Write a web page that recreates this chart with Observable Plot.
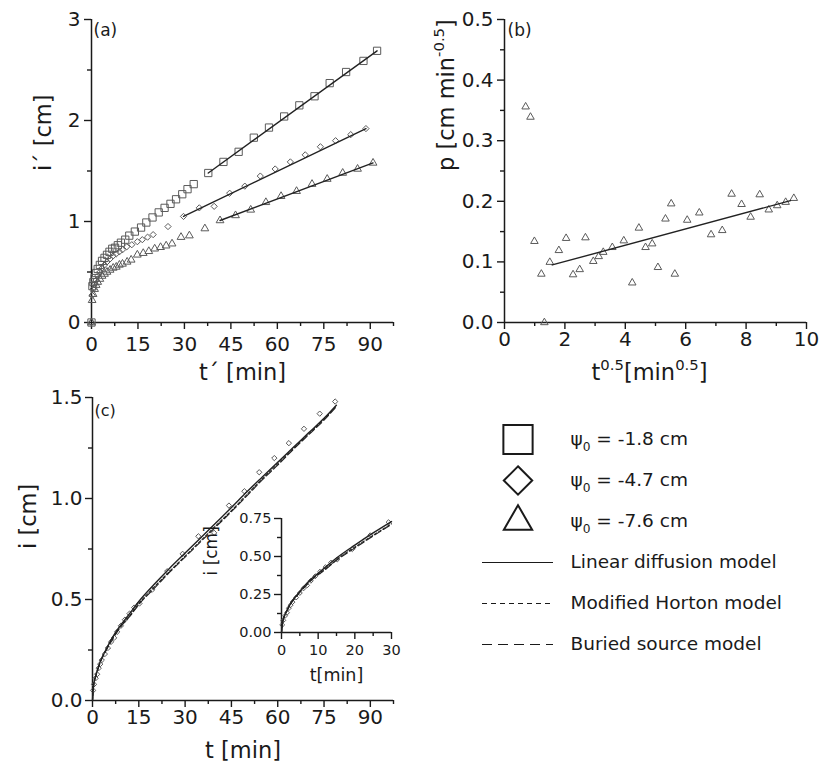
<!DOCTYPE html>
<html><head><meta charset="utf-8">
<script src="https://cdn.jsdelivr.net/npm/d3@7"></script>
<script src="https://cdn.jsdelivr.net/npm/@observablehq/plot@0.6"></script>
<style>
body{margin:0;background:#fff;}
#wrap{position:relative;width:819px;height:781px;overflow:hidden;background:#fff;}
#wrap svg{position:absolute;overflow:visible;}
</style></head><body><div id="wrap"></div>
<script>
// ---------------- DATA ----------------
// Panel (a): i' vs t'
const sqT = [0,0.3,0.6,1.0,1.5,2.0,2.7,3.4,4.2,5.0,5.8,6.7,7.6,8.5,9.5,10.9,12.2,14.0,16.0,17.7,19.7,21.7,23.6,25.5,27.3,29.3,31.0,33.0,37.7,42.6,47.5,52.4,57.3,62.2,67.1,72.0,76.9,82.2,87.8,92.2];
const sqI = [0,0.36,0.40,0.44,0.49,0.53,0.57,0.61,0.64,0.67,0.70,0.73,0.74,0.765,0.79,0.82,0.86,0.90,0.94,0.99,1.04,1.09,1.135,1.175,1.22,1.27,1.32,1.37,1.48,1.59,1.69,1.83,1.93,2.04,2.15,2.24,2.37,2.48,2.59,2.69];
const diT = [0,0.2,0.5,1.0,1.5,2.0,2.7,3.4,4.2,5.0,6.0,7.0,8.0,9.0,10.0,11.4,13.0,14.8,16.4,18.1,19.9,24.7,29.7,34.8,39.6,44.6,49.5,54.5,59.3,64.2,69.0,73.9,78.8,83.7,88.6];
const diI = [0,0.27,0.33,0.38,0.42,0.46,0.50,0.54,0.57,0.60,0.63,0.66,0.68,0.70,0.72,0.75,0.77,0.80,0.82,0.845,0.87,0.95,1.05,1.135,1.15,1.28,1.35,1.45,1.52,1.59,1.66,1.74,1.80,1.86,1.92];
const trT = [0,0.2,0.5,1.0,1.5,2.0,2.7,3.4,4.2,5.0,6.0,7.0,8.0,9.0,10.0,11.5,12.8,14.8,16.7,18.5,20.4,22.3,24.1,26.0,28.9,31.6,36.6,41.5,46.5,51.4,56.3,61.2,66.2,71.2,76.1,81.1,85.9,90.9];
const trI = [0,0.22,0.28,0.33,0.37,0.40,0.43,0.46,0.48,0.50,0.52,0.54,0.55,0.57,0.58,0.60,0.62,0.67,0.686,0.705,0.73,0.745,0.76,0.78,0.845,0.86,0.93,1.01,1.06,1.115,1.19,1.25,1.30,1.37,1.42,1.48,1.52,1.58];
const fitSqT = [37.7, 92.2], fitSqI = [1.48, 2.69];
const fitDiT = [29.7, 88.6], fitDiI = [1.05, 1.92];
const fitTrT = [41.5, 90.9], fitTrI = [1.01, 1.58];
const aXTicks = [0,15,30,45,60,75,90];
const aXMinor = [7.5,22.5,37.5,52.5,67.5,82.5,97.5];
const aYTicks = [0,1,2,3];
const aYMinor = [0.5,1.5,2.5];

// Panel (b): p vs t^0.5
const pX = [0.70,0.86,0.99,1.22,1.32,1.50,1.80,2.04,2.27,2.49,2.68,2.94,3.12,3.27,3.57,3.95,4.23,4.45,4.67,4.89,5.08,5.33,5.52,5.64,6.05,6.45,6.84,7.21,7.52,7.85,8.15,8.45,8.75,9.03,9.31,9.58];
const pY = [0.356,0.339,0.134,0.080,0.0,0.0995,0.119,0.139,0.079,0.0875,0.140,0.101,0.109,0.116,0.124,0.135,0.0655,0.156,0.124,0.130,0.091,0.171,0.196,0.080,0.169,0.181,0.145,0.152,0.212,0.195,0.174,0.211,0.186,0.193,0.1985,0.205];
const pFitX = [1.58, 9.47], pFitY = [0.095, 0.201];
const bXTicks = [0,2,4,6,8,10], bXMinor = [1,3,5,7,9];
const bYTicks = [0,0.1,0.2,0.3,0.4,0.5], bYMinor = [0.05,0.15,0.25,0.35,0.45];

// Panel (c): i vs t
const cT = [0.2,0.5,1.0,1.5,2.0,2.5,3.0,4.0,5.0,6.0,7.0,8.0,9.2,10.5,12.0,13.5,15.2,19.3,24.2,29.2,34.3,39.4,44.2,49.2,54.0,58.9,63.6,68.5,73.6,78.6];
const cI = [0.05,0.08,0.11,0.13,0.16,0.18,0.20,0.23,0.26,0.29,0.31,0.34,0.37,0.40,0.43,0.46,0.48,0.548,0.64,0.726,0.813,0.83,0.965,1.036,1.13,1.20,1.274,1.345,1.42,1.48];
const mT  = [0,0.25,0.5,1,2,3,4,6,8,10,12,15,20,25,30,35,40,45,50,55,60,65,70,75,79];
const mLD = [0,0.06,0.09,0.12,0.17,0.21,0.24,0.30,0.35,0.39,0.43,0.49,0.575,0.655,0.73,0.805,0.88,0.955,1.033,1.107,1.18,1.252,1.325,1.397,1.462];
const mMH = [0,0.06,0.09,0.12,0.17,0.21,0.24,0.295,0.345,0.385,0.42,0.48,0.562,0.64,0.715,0.79,0.866,0.94,1.019,1.097,1.172,1.247,1.32,1.393,1.459];
const mBS = [0,0.055,0.085,0.115,0.165,0.205,0.235,0.29,0.34,0.38,0.415,0.475,0.555,0.635,0.71,0.785,0.86,0.935,1.013,1.092,1.165,1.242,1.315,1.388,1.455];
const cXTicks = [0,15,30,45,60,75,90], cXMinor = [7.5,22.5,37.5,52.5,67.5,82.5,97.5];
const cYTicks = [0,0.5,1.0,1.5], cYMinor = [0.25,0.75,1.25];
const inXTicks = [0,10,20,30], inXMinor = [5,15,25];
const inYTicks = [0,0.25,0.5,0.75], inYMinor = [0.125,0.375,0.625];

// Legend
const legendLabels = ["ψ_{0} = -1.8 cm","ψ_{0} = -4.7 cm","ψ_{0} = -7.6 cm","Linear diffusion model","Modified Horton model","Buried source model"];

// ---------------- HELPERS ----------------
const FONT = '"DejaVu Sans", "Liberation Sans", Arial, sans-serif';
const INK = "#1a1a1a";
const GRAY = "#5a5a5a";
const zip = (xs, ys) => xs.map((x, i) => ({x, y: ys[i]}));
const wrap = document.getElementById("wrap");

function axes({xT, xM, yT, yM, xFmt, yFmt, fs, xPad, yPad}) {
  const common = {stroke: INK, fill: INK, strokeWidth: 1.4, label: null, fontSize: fs};
  return [
    Plot.axisX(xT, {...common, anchor: "bottom", tickSize: 7, tickPadding: xPad, tickFormat: xFmt}),
    Plot.axisX(xM, {anchor: "bottom", tickSize: 4, stroke: INK, strokeWidth: 1.4, fill: "none", label: null}),
    Plot.axisY(yT, {...common, anchor: "left", tickSize: 7, tickPadding: yPad, tickFormat: yFmt}),
    Plot.axisY(yM, {anchor: "left", tickSize: 4, stroke: INK, strokeWidth: 1.4, fill: "none", label: null}),
    Plot.ruleX([0], {stroke: INK, strokeWidth: 1.5}),
    Plot.ruleY([0], {stroke: INK, strokeWidth: 1.5})
  ];
}

function place(svg, left, top) {
  svg.style.left = left + "px";
  svg.style.top = top + "px";
  wrap.appendChild(svg);
  enrich(svg);
}

function enrich(svg) {
  svg.querySelectorAll("text").forEach(t => {
    const s = t.textContent;
    if (!/[_^]\{/.test(s)) return;
    const fs = parseFloat(getComputedStyle(t).fontSize) || 16;
    while (t.firstChild) t.removeChild(t.firstChild);
    const re = /([_^])\{([^}]*)\}/g;
    let last = 0, m, shift = 0;
    const add = (str, kind) => {
      const ts = document.createElementNS("http://www.w3.org/2000/svg", "tspan");
      const target = kind === "^" ? -0.42 * fs : kind === "_" ? 0.32 * fs : 0;
      if (target - shift !== 0) ts.setAttribute("dy", target - shift);
      shift = target;
      if (kind) ts.setAttribute("font-size", 0.66 * fs);
      ts.textContent = str;
      t.appendChild(ts);
    };
    while ((m = re.exec(s))) {
      if (m.index > last) add(s.slice(last, m.index), null);
      add(m[2], m[1]);
      last = re.lastIndex;
    }
    if (last < s.length) add(s.slice(last), null);
  });
}

const baseStyle = {fontFamily: FONT, background: "transparent", overflow: "visible", maxWidth: "none", color: INK};

// ---------------- PANEL (a) ----------------
const plotA = Plot.plot({
  width: 410, height: 400, marginLeft: 91, marginRight: 17, marginTop: 19, marginBottom: 78,
  style: baseStyle,
  x: {domain: [0, 97.5], axis: null},
  y: {domain: [0, 3], axis: null},
  marks: [
    ...axes({xT: aXTicks, xM: aXMinor, yT: aYTicks, yM: aYMinor, yFmt: d3.format("d"), fs: 20, xPad: 7, yPad: 4}),
    Plot.dot(zip(sqT, sqI), {x: "x", y: "y", symbol: "square", r: 4.1, stroke: GRAY, strokeWidth: 1, fill: "none"}),
    Plot.dot(zip(diT, diI), {x: "x", y: "y", symbol: "diamond2", r: 2.8, stroke: GRAY, strokeWidth: 1, fill: "none"}),
    Plot.dot(zip(trT, trI), {x: "x", y: "y", symbol: "triangle2", r: 3.7, stroke: GRAY, strokeWidth: 1, fill: "none"}),
    Plot.line(zip(fitSqT, fitSqI), {x: "x", y: "y", stroke: "#222", strokeWidth: 1.4}),
    Plot.line(zip(fitDiT, fitDiI), {x: "x", y: "y", stroke: "#222", strokeWidth: 1.4}),
    Plot.line(zip(fitTrT, fitTrI), {x: "x", y: "y", stroke: "#222", strokeWidth: 1.4}),
    Plot.text(["(a)"], {frameAnchor: "top-left", textAnchor: "start", lineAnchor: "top", dx: 2, dy: 4, fontSize: 17, fill: INK}),
    Plot.text(["i´ [cm]"], {frameAnchor: "left", rotate: -90, dx: -48, fontSize: 22.5, fill: INK}),
    Plot.text(["t´ [min]"], {frameAnchor: "bottom", dy: 57, fontSize: 22.5, fill: INK})
  ]
});
place(plotA, 0, 0);

// ---------------- PANEL (b) ----------------
const plotB = Plot.plot({
  width: 409, height: 400, marginLeft: 94, marginRight: 13, marginTop: 19, marginBottom: 78,
  style: baseStyle,
  x: {domain: [0, 10], axis: null},
  y: {domain: [0, 0.5], axis: null},
  marks: [
    ...axes({xT: bXTicks, xM: bXMinor, yT: bYTicks, yM: bYMinor, yFmt: d3.format(".1f"), fs: 20, xPad: 2, yPad: 4}),
    Plot.dot(zip(pX, pY), {x: "x", y: "y", symbol: "triangle2", r: 3.6, stroke: GRAY, strokeWidth: 1, fill: "none"}),
    Plot.line(zip(pFitX, pFitY), {x: "x", y: "y", stroke: "#222", strokeWidth: 1.4}),
    Plot.text(["(b)"], {frameAnchor: "top-left", textAnchor: "start", lineAnchor: "top", dx: 3, dy: 4, fontSize: 17, fill: INK}),
    Plot.text(["p [cm min^{-0.5}]"], {frameAnchor: "left", rotate: -90, dx: -58, fontSize: 22.5, fill: INK}),
    Plot.text(["t^{0.5}[min^{0.5}]"], {frameAnchor: "bottom", dx: -6, dy: 57, fontSize: 22.5, fill: INK})
  ]
});
place(plotB, 410, 0);

// ---------------- PANEL (c) ----------------
const plotC = Plot.plot({
  width: 410, height: 401, marginLeft: 92, marginRight: 17, marginTop: 17, marginBottom: 81,
  style: baseStyle,
  x: {domain: [0, 97.5], axis: null},
  y: {domain: [0, 1.5], axis: null},
  marks: [
    ...axes({xT: cXTicks, xM: cXMinor, yT: cYTicks, yM: cYMinor, yFmt: d3.format(".1f"), fs: 20, xPad: 2, yPad: 3}),
    Plot.dot(zip(cT, cI), {x: "x", y: "y", symbol: "diamond2", r: 2.4, stroke: GRAY, strokeWidth: 1, fill: "none"}),
    Plot.line(zip(mT, mBS), {x: "x", y: "y", curve: "monotone-x", stroke: "#222", strokeWidth: 1.1, strokeDasharray: "7,3"}),
    Plot.line(zip(mT, mMH), {x: "x", y: "y", curve: "monotone-x", stroke: "#222", strokeWidth: 1.1, strokeDasharray: "3,2"}),
    Plot.line(zip(mT, mLD), {x: "x", y: "y", curve: "monotone-x", stroke: "#222", strokeWidth: 1.4}),
    Plot.text(["(c)"], {frameAnchor: "top-left", textAnchor: "start", lineAnchor: "top", dx: 2, dy: 7, fontSize: 16, fill: INK}),
    Plot.text(["i [cm]"], {frameAnchor: "left", rotate: -90, dx: -64, fontSize: 22.5, fill: INK}),
    Plot.text(["t [min]"], {frameAnchor: "bottom", dy: 57, fontSize: 22.5, fill: INK})
  ]
});
place(plotC, 0, 380);

// ---------------- INSET ----------------
const inC = zip(cT, cI).filter(d => d.x <= 30);
const inLD = zip(mT, mLD).filter(d => d.x <= 30);
const inMH = zip(mT, mMH).filter(d => d.x <= 30);
const inBS = zip(mT, mBS).filter(d => d.x <= 30);
const plotIn = Plot.plot({
  width: 230, height: 200, marginLeft: 101, marginRight: 19, marginTop: 18, marginBottom: 68,
  style: baseStyle,
  x: {domain: [0, 30], axis: null},
  y: {domain: [0, 0.75], axis: null},
  marks: [
    ...axes({xT: inXTicks, xM: inXMinor, yT: inYTicks, yM: inYMinor, yFmt: d3.format(".2f"), fs: 14.5, xPad: 5, yPad: 3}),
    Plot.dot(inC, {x: "x", y: "y", symbol: "diamond2", r: 2.2, stroke: GRAY, strokeWidth: 1, fill: "none"}),
    Plot.line(inBS, {x: "x", y: "y", curve: "monotone-x", stroke: "#222", strokeWidth: 1.1, strokeDasharray: "7,3"}),
    Plot.line(inMH, {x: "x", y: "y", curve: "monotone-x", stroke: "#222", strokeWidth: 1.1, strokeDasharray: "3,2"}),
    Plot.line(inLD, {x: "x", y: "y", curve: "monotone-x", stroke: "#222", strokeWidth: 1.4}),
    Plot.text(["i [cm]"], {frameAnchor: "left", rotate: -90, dx: -70, fontSize: 17, fill: INK}),
    Plot.text(["t[min]"], {frameAnchor: "bottom", dy: 48, fontSize: 17.5, fill: INK})
  ]
});
place(plotIn, 180, 500);

// ---------------- LEGEND ----------------
const plotL = Plot.plot({
  width: 379, height: 260, marginLeft: 42, marginRight: 266, marginTop: 0, marginBottom: 0,
  style: baseStyle,
  x: {domain: [0, 1], axis: null},
  y: {type: "point", domain: legendLabels, range: [27, 235], padding: 0, axis: null},
  marks: [
    Plot.dot([legendLabels[0]], {x: () => 0.5, y: d => d, symbol: "square", r: 16.5, stroke: INK, strokeWidth: 2, fill: "none"}),
    Plot.dot([legendLabels[1]], {x: () => 0.5, y: d => d, symbol: "diamond2", r: 12.8, stroke: INK, strokeWidth: 2, fill: "none"}),
    Plot.dot([legendLabels[2]], {x: () => 0.5, y: d => d, symbol: "triangle2", r: 13.5, stroke: INK, strokeWidth: 2, fill: "none"}),
    Plot.ruleY([legendLabels[3]], {y: d => d, x1: () => 0, x2: () => 1, stroke: INK, strokeWidth: 1.2}),
    Plot.ruleY([legendLabels[4]], {y: d => d, x1: () => 0, x2: () => 1, stroke: INK, strokeWidth: 1.2, strokeDasharray: "5,4"}),
    Plot.ruleY([legendLabels[5]], {y: d => d, x1: () => 0, x2: () => 1, stroke: INK, strokeWidth: 1.2, strokeDasharray: "10,6"}),
    Plot.text(legendLabels, {x: () => 1, y: d => d, dx: 17, textAnchor: "start", fontSize: 18.5, fill: INK})
  ]
});
place(plotL, 440, 410);
</script>
</body></html>
